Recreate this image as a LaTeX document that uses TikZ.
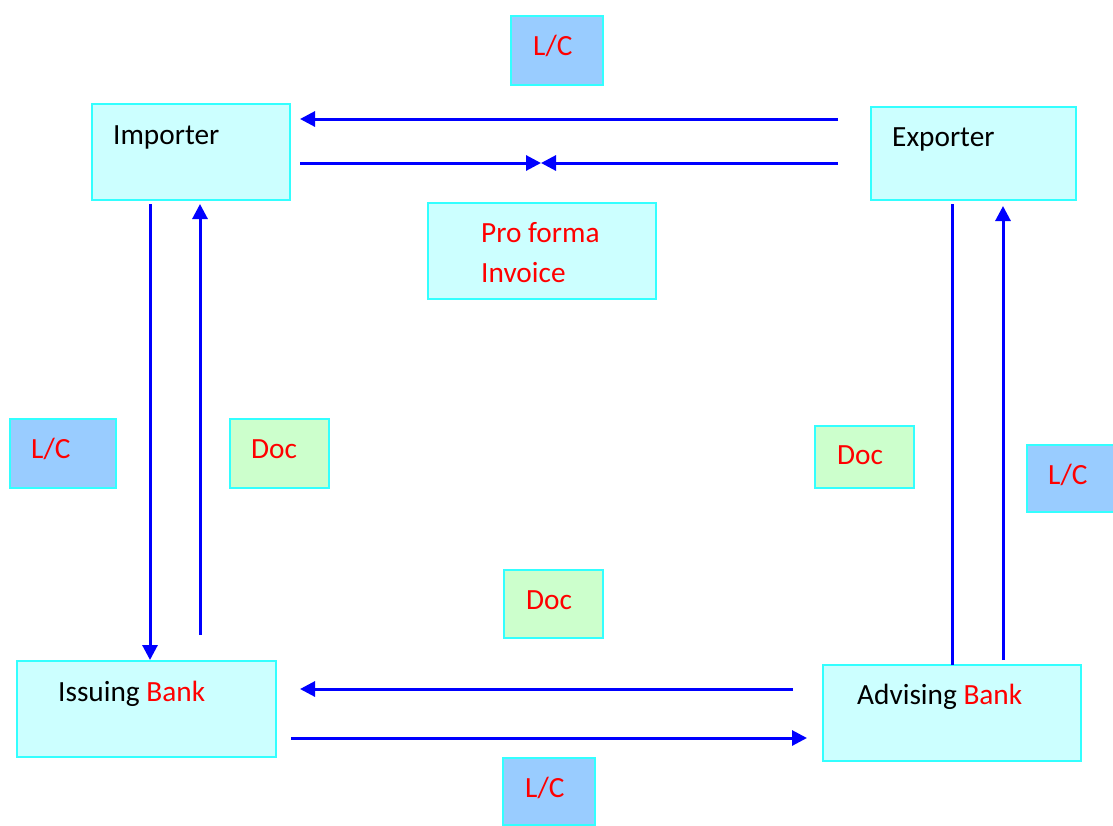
\documentclass[tikz,border=0pt]{standalone}
\usepackage{fontspec}
\setmainfont{Carlito}
\usetikzlibrary{arrows.meta}
\definecolor{boxfill}{HTML}{CCFFFF}
\definecolor{boxline}{HTML}{33FFFF}
\definecolor{lcfill}{HTML}{99CCFF}
\definecolor{docfill}{HTML}{CCFFCC}
\definecolor{arrowblue}{HTML}{0000FF}
\definecolor{txtred}{HTML}{FF0000}
\tikzset{
  box/.style={draw=boxline, line width=2pt, fill=boxfill},
  lcbox/.style={draw=boxline, line width=2pt, fill=lcfill},
  docbox/.style={draw=boxline, line width=2pt, fill=docfill},
  lbl/.style={anchor=base west, inner sep=0pt, font=\fontsize{29.3}{34}\selectfont},
  conn/.style={draw=arrowblue, line width=3pt},
  arr/.style={conn, -{Triangle[length=15pt,width=15pt]}},
}
\begin{document}
\begin{tikzpicture}[x=1pt,y=-1pt]
\useasboundingbox (0,0) rectangle (1113,825);
% boxes
\node[lcbox, minimum width=92pt, minimum height=69pt] (lctop) at (557,50.5) {};
\node[box, minimum width=198pt, minimum height=96pt] (imp) at (191,152) {};
\node[box, minimum width=205pt, minimum height=93pt] (exp) at (973.5,153.5) {};
\node[box, minimum width=228pt, minimum height=96pt] (pfi) at (542,251) {};
\node[lcbox, minimum width=106pt, minimum height=69pt] (lcleft) at (63,453.5) {};
\node[docbox, minimum width=99pt, minimum height=69pt] (docleft) at (279.5,453.5) {};
\node[docbox, minimum width=99pt, minimum height=62pt] (docright) at (864.5,457) {};
\node[lcbox, minimum width=100pt, minimum height=67pt] (lcright) at (1077,478.5) {};
\node[docbox, minimum width=99pt, minimum height=68pt] (docmid) at (553.5,604) {};
\node[box, minimum width=259pt, minimum height=96pt] (iss) at (146.5,709) {};
\node[box, minimum width=258pt, minimum height=96pt] (adv) at (952,713) {};
\node[lcbox, minimum width=92pt, minimum height=67pt] (lcbot) at (549,791.5) {};
% labels
\node[lbl, text=txtred] (tlctop) at (533,55) {L/C};
\node[lbl] (timp) at (113,144) {Importer};
\node[lbl] (texp) at (892,146) {Exporter};
\node[lbl, text=txtred] (tpfi1) at (481,242) {Pro forma};
\node[lbl, text=txtred] (tpfi2) at (481,282) {Invoice};
\node[lbl, text=txtred] (tlcleft) at (31,458) {L/C};
\node[lbl, text=txtred] (tdocleft) at (251,458) {Doc};
\node[lbl, text=txtred] (tdocright) at (837,464) {Doc};
\node[lbl, text=txtred] (tlcright) at (1048,484) {L/C};
\node[lbl, text=txtred] (tdocmid) at (526,609) {Doc};
\node[lbl] (tiss) at (58,701) {Issuing \textcolor{txtred}{Bank}};
\node[lbl] (tadv) at (857,704) {Advising \textcolor{txtred}{Bank}};
\node[lbl, text=txtred] (tlcbot) at (525,797) {L/C};
% connector end points
\coordinate (a1s) at (838,119);
\coordinate (a1e) at (300,119);
\coordinate (a2s) at (300,163);
\coordinate (a2e) at (541,163);
\coordinate (a3s) at (838,163);
\coordinate (a3e) at (541,163);
\coordinate (v1s) at (150,204);
\coordinate (v1e) at (150,660);
\coordinate (v2s) at (200,635);
\coordinate (v2e) at (200,204);
\coordinate (v3s) at (952,204);
\coordinate (v3e) at (952,665);
\coordinate (v4s) at (1003,660);
\coordinate (v4e) at (1003,206);
\coordinate (b1s) at (793,689);
\coordinate (b1e) at (300,689);
\coordinate (b2s) at (291,738);
\coordinate (b2e) at (807,738);
% connectors
\draw[arr] (a1s) -- (a1e);
\draw[arr] (a2s) -- (a2e);
\draw[arr] (a3s) -- (a3e);
\draw[arr] (v1s) -- (v1e);
\draw[arr] (v2s) -- (v2e);
\draw[conn] (v3s) -- (v3e);
\draw[arr] (v4s) -- (v4e);
\draw[arr] (b1s) -- (b1e);
\draw[arr] (b2s) -- (b2e);
\end{tikzpicture}
\end{document}
